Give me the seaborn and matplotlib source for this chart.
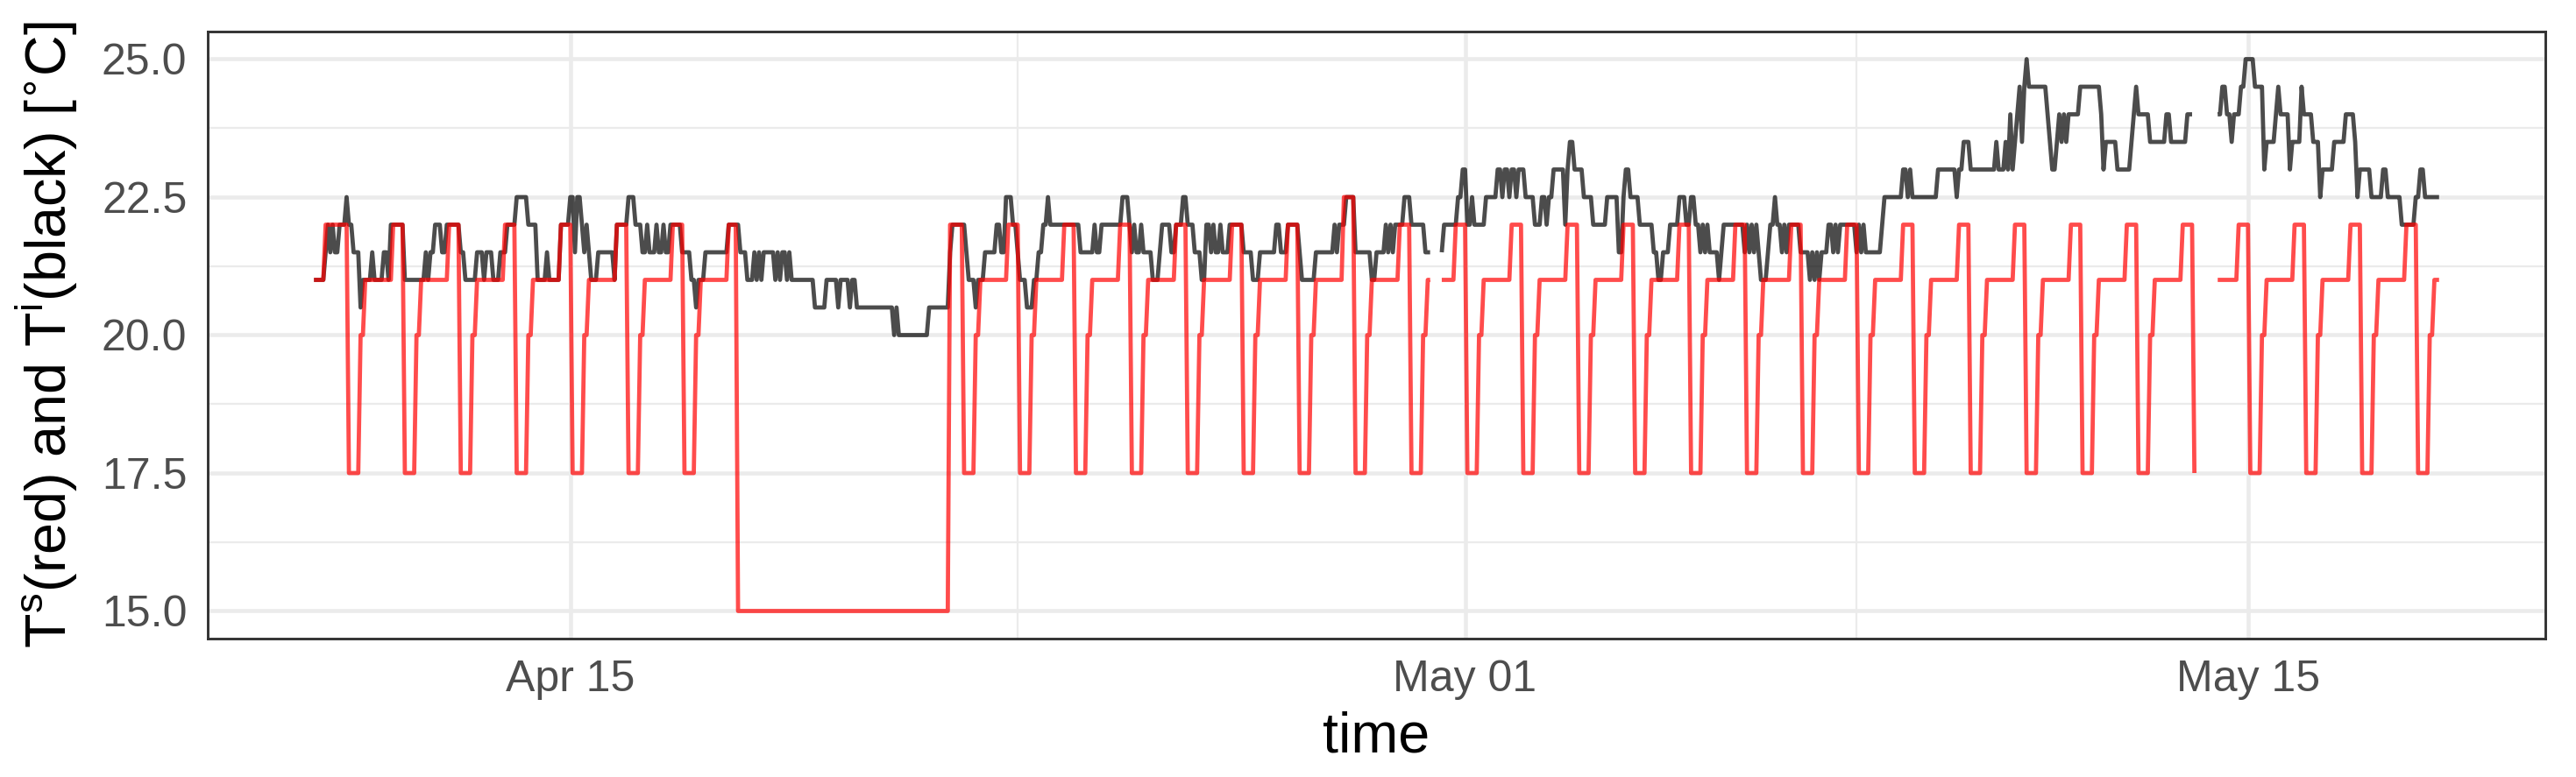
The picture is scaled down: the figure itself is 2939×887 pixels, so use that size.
import numpy as np
import pandas as pd
import matplotlib
matplotlib.use("Agg")
import matplotlib.pyplot as plt
import matplotlib.dates as mdates
import matplotlib.ticker as mticker
import seaborn as sns

# DATA
# hourly samples, clock in hours from this timestamp
start = pd.Timestamp("2017-04-10 00:00")
first_h = 10
last_h = 922

# setpoint T^s : regular day, value at each hour of the day (hour 0 = previous evening level)
sp_day = [22.0, 17.5, 17.5, 17.5, 17.5, 17.5, 20.0, 20.0, 21.0, 21.0, 21.0, 21.0,
          21.0, 21.0, 21.0, 21.0, 21.0, 21.0, 21.0, 21.0, 22.0, 22.0, 22.0, 22.0]
# deviations from the regular day: (from hour, to hour, value)
sp_changes = [(10, 14, 21.0), (15, 19, 22.0),      # first afternoon
              (192, 282, 15.0), (283, 283, 22.0),  # away Apr 18 - Apr 21
              (452, 456, 22.5)]                    # Apr 28 evening
sp_gaps = [(490, 493), (818, 826)]

# indoor temperature T^i : (hour where a new level starts, level)
ti_wk1 = [(10, 21), (15, 21.5), (16, 22), (17, 21.5), (18, 22), (19, 21.5), (21, 22), (24, 22.5),
          (25, 22), (27, 21.5), (30, 20.5), (31, 21), (35, 21.5), (36, 21), (40, 21.5), (42, 21),
          (43, 22), (49, 21), (58, 21.5), (59, 21), (60, 21.5), (62, 22), (65, 21.5), (67, 22),
          (73, 21.5), (75, 21), (80, 21.5), (83, 21), (84, 21.5), (87, 21), (90, 21.5), (93, 22),
          (97, 22.5), (102, 22), (106, 21), (110, 21.5), (111, 21), (116, 22), (120, 22.5),
          (122, 21.5), (123, 22.5), (125, 22), (126, 21.5), (127, 22), (128, 21.5), (129, 21),
          (132, 21.5), (139, 21), (140, 22), (145, 22.5), (148, 22), (151, 21.5), (153, 22),
          (154, 21.5), (157, 22), (158, 21.5), (160, 22), (161, 21.5), (163, 22), (168, 21.5),
          (172, 21), (174, 20.5), (175, 21), (178, 21.5), (188, 22), (193, 21.5), (196, 21)]
ti_wk2 = [(199, 21.5), (200, 21), (201, 21.5), (202, 21), (203, 21.5), (208, 21), (209, 21.5),
          (210, 21), (211, 21.5), (213, 21), (214, 21.5), (215, 21), (225, 20.5), (230, 21),
          (235, 20.5), (236, 21), (240, 20.5), (241, 21), (243, 20.5), (259, 20), (260, 20.5),
          (261, 20), (274, 20.5), (283, 21.5), (284, 22), (290, 21.5), (291, 21), (294, 20.5),
          (295, 21), (298, 21.5), (303, 22), (305, 21.5), (307, 22.5), (310, 22), (312, 21.5),
          (313, 21), (316, 20.5), (319, 21), (321, 21.5), (323, 22), (325, 22.5), (326, 22),
          (339, 21.5), (345, 22), (346, 21.5), (348, 22), (357, 22.5), (360, 22), (361, 21.5),
          (362, 22), (363, 21.5), (365, 22), (366, 21.5), (370, 21), (373, 21.5), (374, 22),
          (378, 21.5), (380, 22), (383, 22.5), (385, 22), (388, 21.5), (391, 21), (393, 22)]
ti_wk3 = [(395, 21.5), (396, 22), (397, 21.5), (399, 22), (400, 21.5), (403, 22), (409, 21.5),
          (413, 21), (416, 21.5), (423, 22), (425, 21.5), (428, 22), (433, 21.5), (434, 21),
          (440, 21.5), (448, 22), (449, 21.5), (450, 22), (453, 22.5), (457, 21.5), (464, 21),
          (466, 21.5), (470, 22), (471, 21.5), (472, 22), (473, 21.5), (474, 22), (478, 22.5),
          (481, 22), (487, 21.5), (490, np.nan), (494, 21.5), (495, 22), (501, 22.5), (503, 23),
          (505, 22), (507, 22.5), (508, 22), (513, 22.5), (518, 23), (520, 22.5), (521, 23),
          (523, 22.5), (524, 23), (526, 22.5), (527, 23), (530, 22.5), (534, 22), (537, 22.5),
          (539, 22), (540, 22.5), (542, 23), (547, 22), (548, 23), (549, 23.5), (551, 23),
          (555, 22.5), (559, 22), (565, 22.5), (570, 21.5), (572, 22.5), (573, 23), (575, 22.5),
          (579, 22), (585, 21.5), (587, 21), (589, 21.5)]
ti_wk4 = [(590, 21.5), (592, 22), (596, 22.5), (599, 22), (601, 22.5), (603, 22), (605, 21.5),
          (606, 22), (607, 21.5), (608, 22), (609, 21.5), (613, 21), (614, 21.5), (615, 22),
          (624, 21.5), (625, 22), (626, 21.5), (627, 22), (628, 21.5), (629, 22), (630, 21.5),
          (631, 21), (634, 21.5), (635, 22), (637, 22.5), (638, 22), (640, 21.5), (641, 22),
          (642, 21.5), (643, 22), (648, 21.5), (652, 21), (653, 21.5), (654, 21), (655, 21.5),
          (656, 21), (657, 21.5), (660, 22), (662, 21.5), (663, 22), (664, 21.5), (665, 22),
          (672, 21.5), (673, 22), (674, 21.5), (675, 22), (676, 21.5), (683, 22), (684, 22.5),
          (692, 23), (694, 22.5), (695, 23), (696, 22.5), (707, 23), (715, 22.5), (716, 23),
          (718, 23.5), (721, 23), (732, 23.5), (733, 23), (736, 23.5), (737, 23), (738, 24),
          (739, 23), (740, 23.5), (741, 24), (742, 24.5), (743, 23.5), (744, 24.5), (745, 25),
          (746, 24.5), (754, 24), (755, 23.5), (756, 23), (758, 23.5), (759, 24), (760, 23.5),
          (761, 24), (762, 23.5), (763, 24), (768, 24.5), (777, 24), (778, 23), (779, 23.5),
          (784, 23)]
ti_wk5 = [(790, 23.5), (791, 24), (792, 24.5), (793, 24), (798, 23.5), (805, 24), (807, 23.5),
          (814, 24), (817, np.nan), (827, 24), (829, 24.5), (831, 24), (833, 23.5), (834, 24),
          (837, 24.5), (839, 25), (843, 24.5), (847, 23), (848, 23.5), (852, 24), (853, 24.5),
          (854, 24), (858, 23), (859, 23.5), (863, 24.5), (864, 24), (868, 23.5), (871, 22.5),
          (872, 23), (877, 23.5), (882, 24), (886, 23.5), (887, 22.5), (888, 23), (893, 22.5),
          (898, 23), (900, 22.5), (906, 22), (912, 22.5), (914, 23), (916, 22.5)]

x_ticks = ["2017-04-15", "2017-05-01", "2017-05-15"]
x_minor = ["2017-04-23", "2017-05-08"]
y_ticks = [15.0, 17.5, 20.0, 22.5, 25.0]
y_minor = [16.25, 18.75, 21.25, 23.75]

# BUILD SERIES
hours = np.arange(first_h, last_h + 1)
times = start + pd.to_timedelta(hours, unit="h")

ts = np.array([sp_day[h % 24] for h in hours])
for h0, h1, v in sp_changes:
    ts[(hours >= h0) & (hours <= h1)] = v
for h0, h1 in sp_gaps:
    ts[(hours >= h0) & (hours <= h1)] = np.nan

ti_points = ti_wk1 + ti_wk2 + ti_wk3 + ti_wk4 + ti_wk5
ch_h = np.array([p[0] for p in ti_points])
ch_v = np.array([p[1] for p in ti_points], dtype=float)
ti = ch_v[np.searchsorted(ch_h, hours, side="right") - 1]


def to_frame(vals):
    seg = np.cumsum(np.isnan(vals))
    return pd.DataFrame({"time": times, "temp": vals, "seg": seg}).dropna()


df_i = to_frame(ti)
df_s = to_frame(ts)

# PLOT
sns.set_style("white")
plt.rcParams["font.family"] = ["Liberation Sans", "DejaVu Sans"]

fig = plt.figure(figsize=(2939 / 300, 887 / 300), dpi=300)
ax = fig.add_axes([237 / 2939, 1 - 729 / 887, (2904 - 237) / 2939, (729 - 36) / 887])

sns.lineplot(data=df_i, x="time", y="temp", units="seg", estimator=None, sort=False,
             color="black", alpha=0.7, linewidth=1.15, solid_capstyle="butt", ax=ax)
sns.lineplot(data=df_s, x="time", y="temp", units="seg", estimator=None, sort=False,
             color="red", alpha=0.7, linewidth=1.15, solid_capstyle="butt", ax=ax)

span = last_h - first_h
ax.set_xlim(start + pd.Timedelta(hours=first_h - 0.05 * span),
            start + pd.Timedelta(hours=last_h + 0.05 * span))
ax.set_ylim(14.5, 25.5)

ax.xaxis.set_major_locator(mticker.FixedLocator(mdates.date2num(pd.to_datetime(x_ticks))))
ax.xaxis.set_minor_locator(mticker.FixedLocator(mdates.date2num(pd.to_datetime(x_minor))))
ax.xaxis.set_major_formatter(mdates.DateFormatter("%b %d"))
ax.yaxis.set_major_locator(mticker.FixedLocator(y_ticks))
ax.yaxis.set_minor_locator(mticker.FixedLocator(y_minor))
ax.yaxis.set_major_formatter(mticker.FormatStrFormatter("%.1f"))

ax.set_axisbelow(True)
ax.grid(which="major", color="#EBEBEB", linewidth=1.1)
ax.grid(which="minor", color="#EBEBEB", linewidth=0.55)
for sp in ax.spines.values():
    sp.set_visible(True)
    sp.set_color("#333333")
    sp.set_linewidth(0.7)
    sp.set_zorder(5)

ax.tick_params(which="major", length=2.75, width=1.0, color="#333333",
               labelsize=12, labelcolor="#4D4D4D", pad=2.9)
ax.tick_params(which="minor", length=0)

ax.set_xlabel("time", fontsize=15.5, color="black", labelpad=3)
ax.set_ylabel(r"T$^\mathregular{s}$(red) and T$^\mathregular{i}$(black) [$\!^\circ\!$C]",
              fontsize=15.5, color="black", labelpad=6)

fig.savefig("out.png", dpi=300, facecolor="white")
